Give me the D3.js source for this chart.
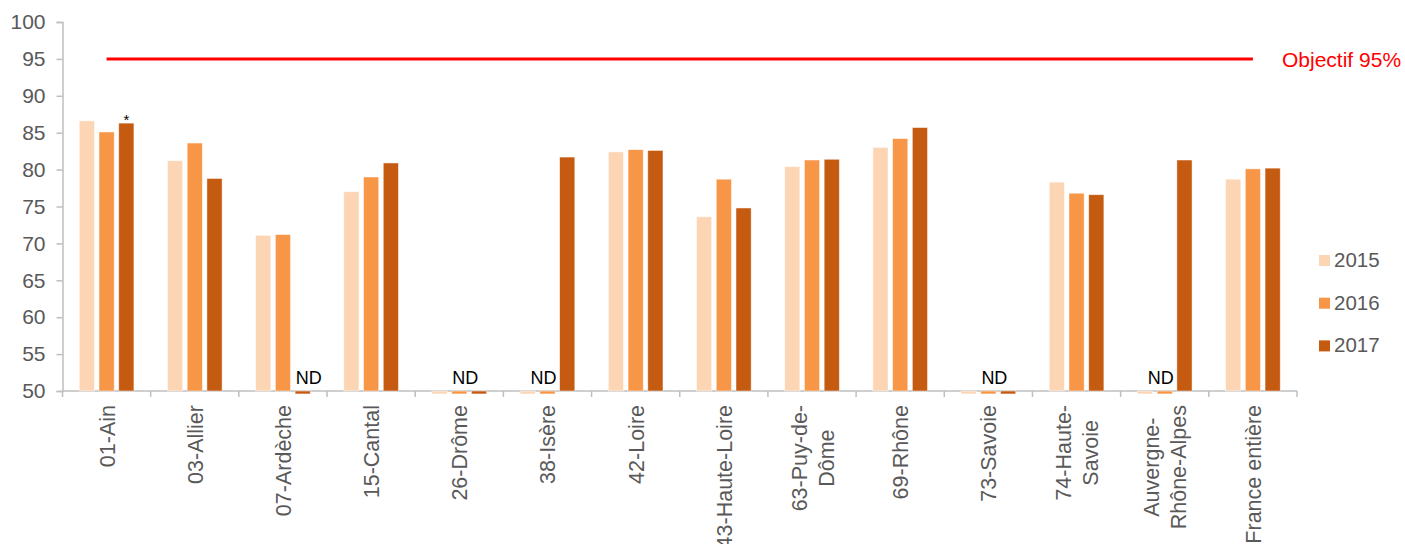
<!DOCTYPE html>
<html lang="fr">
<head>
<meta charset="utf-8">
<script src="https://cdn.jsdelivr.net/npm/d3@7"></script>
<style>
  html, body { margin: 0; padding: 0; background: #fff; }
  svg { display: block; font-family: "Liberation Sans", Arial, sans-serif; }
</style>
</head>
<body>
<svg id="chart" width="1405" height="544"></svg>
<script>
// Départements (multi-line labels split with "\n")
const categories = [
  "01-Ain", "03-Allier", "07-Ardèche", "15-Cantal", "26-Drôme", "38-Isère",
  "42-Loire", "43-Haute-Loire", "63-Puy-de-\nDôme", "69-Rhône", "73-Savoie",
  "74-Haute-\nSavoie", "Auvergne-\nRhône-Alpes", "France entière"
];
const years = ["2015", "2016", "2017"];

// Couverture (%) ; null = non disponible (ND)
const values2015 = [86.6, 81.2, 71.1, 77.0, null, null, 82.4, 73.6, 80.4, 83.0, null, 78.3, null, 78.7];
const values2016 = [85.1, 83.6, 71.2, 79.0, null, null, 82.7, 78.7, 81.3, 84.2, null, 76.8, null, 80.1];
const values2017 = [86.3, 78.8, null, 80.9, null, 81.7, 82.6, 74.8, 81.4, 85.7, null, 76.6, 81.3, 80.2];

// Objective line, one point per category
const objective = categories.map(() => 95);
const objectiveLabel = "Objectif 95%";

// Y axis ticks
const yTicks = [50, 55, 60, 65, 70, 75, 80, 85, 90, 95, 100];

// Value used for the short stub drawn under the axis when data is missing
const ndStubValue = 49.6;

// Flagged bar (asterisk)
const starred = [{ category: "01-Ain", year: "2017" }];

const colors = { "2015": "#FCD5B5", "2016": "#F79646", "2017": "#C55A11" };
const textGray = "#595959";
const axisGray = "#BFBFBF";

const series = { "2015": values2015, "2016": values2016, "2017": values2017 };

const svg = d3.select("#chart");

const x0 = d3.scaleBand()
  .domain(categories)
  .range([62.5, 1297])
  .paddingInner(0.38)
  .paddingOuter(0.19);

const x1 = d3.scaleBand()
  .domain(years)
  .range([0, x0.bandwidth()])
  .paddingInner(0.23);

const y = d3.scaleLinear().domain([50, 100]).range([391, 22]);

// Y axis
const yAxis = svg.append("g")
  .attr("transform", `translate(${x0.range()[0]},0)`)
  .call(d3.axisLeft(y).tickValues(yTicks).tickSize(6).tickPadding(11));
yAxis.select(".domain").attr("stroke", axisGray).attr("stroke-width", 1.5);
yAxis.selectAll(".tick line").attr("stroke", axisGray).attr("stroke-width", 1.5);
yAxis.selectAll(".tick text")
  .attr("fill", textGray)
  .style("font-size", "21px")
  .style("font-family", "'Liberation Sans', Arial, sans-serif");

// X axis line with ticks at the category boundaries
const xr = x0.range();
const step = x0.step();
const boundaries = d3.range(categories.length + 1).map(i => xr[0] + i * step);
svg.append("line")
  .attr("x1", xr[0]).attr("x2", boundaries[boundaries.length - 1])
  .attr("y1", y(50)).attr("y2", y(50))
  .attr("stroke", axisGray).attr("stroke-width", 1.5);
svg.append("g").selectAll("line")
  .data(boundaries)
  .join("line")
  .attr("x1", d => d).attr("x2", d => d)
  .attr("y1", y(50)).attr("y2", y(50) + 6)
  .attr("stroke", axisGray).attr("stroke-width", 1.5);

// Bars
const rows = [];
categories.forEach((c, i) => {
  years.forEach(yr => rows.push({ category: c, year: yr, value: series[yr][i] }));
});

svg.append("g").selectAll("rect")
  .data(rows)
  .join("rect")
  .attr("x", d => x0(d.category) + x1(d.year))
  .attr("width", x1.bandwidth())
  .attr("y", d => d.value == null ? y(50) : y(d.value))
  .attr("height", d => d.value == null ? y(ndStubValue) - y(50) : y(50) - y(d.value))
  .attr("fill", d => colors[d.year])
  .attr("stroke", "#fff")
  .attr("stroke-opacity", 0.6)
  .attr("stroke-width", 0.8);

// "ND" labels above the missing bars of each category
const ndGroups = categories.map((c, i) => {
  const missing = years.filter(yr => series[yr][i] == null);
  if (!missing.length) return null;
  const centers = missing.map(yr => x0(c) + x1(yr) + x1.bandwidth() / 2);
  return { category: c, cx: d3.mean(centers) };
}).filter(Boolean);

svg.append("g").selectAll("text")
  .data(ndGroups)
  .join("text")
  .attr("x", d => d.cx + 6)
  .attr("y", 384)
  .attr("text-anchor", "middle")
  .attr("fill", "#000")
  .style("font-size", "18px")
  .text("ND");

// Asterisk on flagged bars
svg.append("g").selectAll("text")
  .data(starred)
  .join("text")
  .attr("x", d => x0(d.category) + x1(d.year) + x1.bandwidth() / 2)
  .attr("y", d => y(series[d.year][categories.indexOf(d.category)]) + 2)
  .attr("text-anchor", "middle")
  .attr("fill", "#000")
  .style("font-size", "15px")
  .text("*");

// Objective line
const line = d3.line()
  .x((d, i) => x0(categories[i]) + x0.bandwidth() / 2)
  .y(d => y(d));
svg.append("path")
  .datum(objective)
  .attr("d", line)
  .attr("fill", "none")
  .attr("stroke", "#FF0000")
  .attr("stroke-width", 3);

svg.append("text")
  .attr("x", 1282)
  .attr("y", y(95) + 8)
  .attr("fill", "#FF0000")
  .style("font-size", "21px")
  .text(objectiveLabel);

// Category labels, rotated, multi-line centered
const labelTop = 405;
const labels = svg.append("g");
categories.forEach(c => {
  const lines = c.split("\n");
  const cx = x0(c) + x0.bandwidth() / 2;
  const g = labels.append("g");
  const texts = lines.map(l => g.append("text")
    .attr("fill", textGray)
    .style("font-size", "21.5px")
    .text(l));
  const maxLen = d3.max(texts, t => t.node().getComputedTextLength());
  const lh = 27;
  const n = lines.length;
  texts.forEach((t, k) => {
    const off = (k - (n - 1) / 2) * lh;
    // rotated -90: text runs bottom-to-top; baseline offset keeps glyphs centered on cx
    t.attr("text-anchor", "middle")
      .attr("transform", `translate(${cx + off + 8},${labelTop + maxLen / 2}) rotate(-90)`);
  });
});

// Legend
const legend = svg.append("g");
years.forEach((yr, i) => {
  const ly = 255 + i * 42.7;
  legend.append("rect")
    .attr("x", 1319).attr("y", ly)
    .attr("width", 11).attr("height", 11)
    .attr("fill", colors[yr]);
  legend.append("text")
    .attr("x", 1334).attr("y", ly + 12)
    .attr("fill", textGray)
    .style("font-size", "20.5px")
    .text(yr);
});
</script>
</body>
</html>
